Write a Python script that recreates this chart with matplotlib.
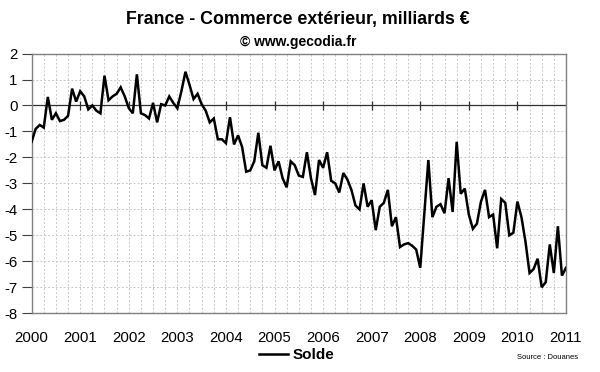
import numpy as np
import matplotlib
matplotlib.use("Agg")
import matplotlib.pyplot as plt
from matplotlib.lines import Line2D

plt.rcParams['font.family'] = ['Liberation Sans', 'DejaVu Sans']

title = "France - Commerce extérieur, milliards €"
subtitle = "© www.gecodia.fr"
series_name = "Solde"
source = "Source : Douanes"

years = list(range(2000, 2012))
year_labels = [str(y) for y in years]
y_ticks = list(range(-8, 3))

# Monthly trade balance, Jan 2000 .. Jan 2011
solde = [
    -1.4, -0.9, -0.75, -0.85, 0.33, -0.55, -0.3, -0.6, -0.55, -0.4, 0.65, 0.15,
    0.55, 0.35, -0.15, 0.0, -0.2, -0.3, 1.15, 0.2, 0.35, 0.45, 0.7, 0.35,
    -0.1, -0.3, 1.2, -0.3, -0.37, -0.5, 0.1, -0.65, 0.05, 0.0, 0.35, 0.1,
    -0.1, 0.55, 1.3, 0.8, 0.25, 0.45, 0.05, -0.2, -0.65, -0.5, -1.3, -1.3,
    -1.45, -0.45, -1.5, -1.15, -1.6, -2.55, -2.5, -2.15, -1.05, -2.3, -2.4, -1.55,
    -2.5, -2.15, -2.8, -3.15, -2.15, -2.3, -2.7, -2.75, -1.8, -2.8, -3.45, -2.1,
    -2.4, -1.8, -2.9, -3.0, -3.35, -2.6, -2.85, -3.25, -3.85, -4.0, -3.0, -3.9,
    -3.65, -4.8, -3.9, -3.75, -3.25, -4.65, -4.3, -5.45, -5.35, -5.3, -5.4, -5.55,
    -6.25, -4.2, -2.1, -4.3, -3.9, -3.8, -4.15, -2.8, -4.1, -1.4, -3.4, -3.2,
    -4.2, -4.75, -4.55, -3.7, -3.25, -4.3, -4.2, -5.5, -3.6, -3.75, -5.0, -4.9,
    -3.7, -4.3, -5.25, -6.45, -6.3, -5.9, -7.0, -6.8, -5.35, -6.45, -4.65, -6.55,
    -6.25,
]
t = 2000 + np.arange(len(solde)) / 12.0

fig = plt.figure(figsize=(6.0, 3.72), dpi=100)
ax = fig.add_axes([0.0527, 0.158, 0.8906, 0.698])

ax.set_xlim(2000, 2011)
ax.set_ylim(-8, 2)

# grid
quarters = np.arange(2000, 2011.001, 0.25)
ax.set_xticks(quarters, minor=True)
ax.set_xticks(years)
ax.set_xticklabels(year_labels, fontsize=10.8)
ax.set_yticks(y_ticks)
ax.set_yticklabels([str(v) for v in y_ticks], fontsize=10.8)
ax.grid(which='minor', axis='x', color='#c8c8c8', linestyle=(0, (2, 2)), linewidth=0.7)
ax.grid(which='major', axis='x', color='#c8c8c8', linestyle=(0, (2, 2)), linewidth=0.7)
ax.grid(which='major', axis='y', color='#c8c8c8', linestyle=(0, (2, 2)), linewidth=0.7)
ax.set_axisbelow(True)

ax.tick_params(axis='x', which='both', length=0, pad=13)
ax.tick_params(axis='y', which='major', length=7, width=0.8, color='#404040', pad=3)
ax.tick_params(axis='y', which='minor', length=0)

for s in ax.spines.values():
    s.set_color('#808080')
    s.set_linewidth(1.0)

# zero axis with year ticks
ax.axhline(0, color='#303030', linewidth=0.9, zorder=2)
ax.vlines(years[1:-1], -0.16, 0.16, color='#303030', linewidth=0.9, zorder=2)

ax.plot(t, solde, color='black', linewidth=1.8, zorder=3, solid_joinstyle='miter')

fig.text(0.497, 0.947, title, ha='center', va='center', fontsize=12.8, fontweight='bold')
fig.text(0.497, 0.886, subtitle, ha='center', va='center', fontsize=10, fontweight='bold')

handle = Line2D([], [], color='black', linewidth=1.8)
fig.legend([handle], [series_name], loc='center', bbox_to_anchor=(0.495, 0.045),
           frameon=False, prop={'weight': 'bold', 'size': 11},
           handlelength=1.9, handletextpad=0.3, borderpad=0)

fig.text(0.963, 0.04, source, ha='right', va='center', fontsize=5.5)

fig.savefig('out.png', dpi=100)
